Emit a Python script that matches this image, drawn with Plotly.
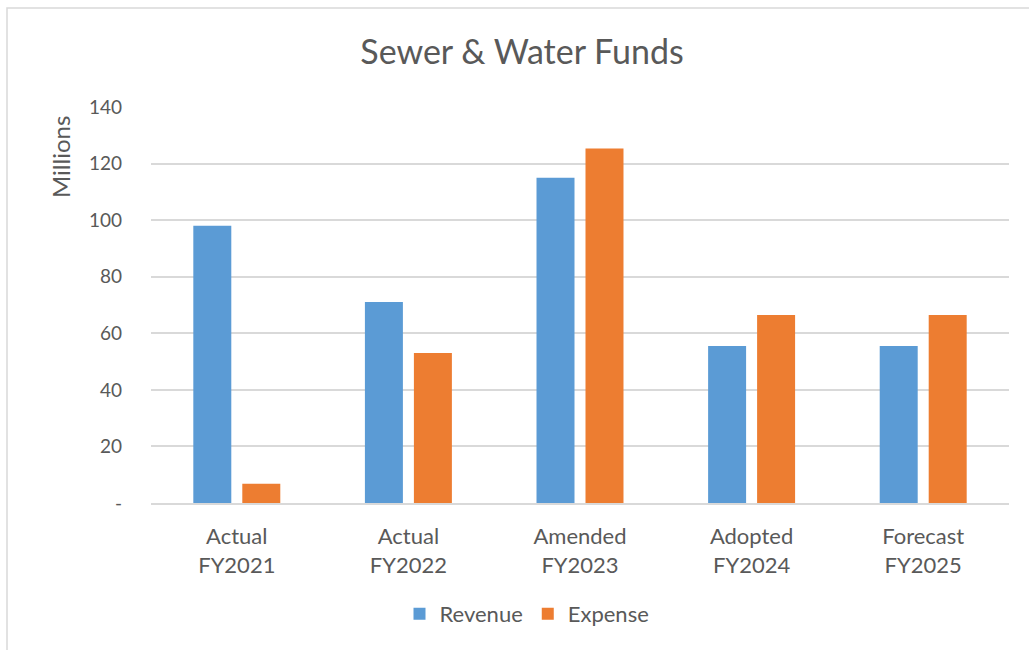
import plotly.graph_objects as go

categories = ["Actual<br>FY2021", "Actual<br>FY2022", "Amended<br>FY2023", "Adopted<br>FY2024", "Forecast<br>FY2025"]
revenue = [98, 71.1, 115, 55.5, 55.5]
expense = [6.8, 53, 125.3, 66.5, 66.5]
y_tickvals = [0, 20, 40, 60, 80, 100, 120, 140]
y_ticktext = ["-", "20", "40", "60", "80", "100", "120", "140"]

FONT = "Lato, Open Sans, sans-serif"
GRAY = "#595959"

fig = go.Figure()
fig.add_trace(go.Bar(name="Revenue", x=categories, y=revenue, marker_color="#5B9BD5", marker_line_width=0))
fig.add_trace(go.Bar(name="Expense", x=categories, y=expense, marker_color="#ED7D31", marker_line_width=0))

W, H = 1029, 650
L, R, T, B = 151, 20, 107, 147
pw = W - L - R
ph = H - T - B

fig.update_layout(
    width=W, height=H,
    margin=dict(l=L, r=R, t=T, b=B, pad=0),
    paper_bgcolor="white", plot_bgcolor="white",
    barmode="group", bargap=0.429, bargroupgap=0.2245,
    font=dict(family=FONT, color=GRAY, size=20),
    title=dict(text="Sewer & Water Funds", x=(522) / W, xanchor="center",
               y=1 - 52 / H, yanchor="middle", font=dict(size=34, color=GRAY, family=FONT)),
    showlegend=True,
    legend=dict(orientation="h", x=(527 - L) / pw, xanchor="center", y=-(614 - (T + ph)) / ph,
                yanchor="middle", font=dict(size=22, color=GRAY), itemwidth=30,
                traceorder="normal", bgcolor="rgba(0,0,0,0)"),
    xaxis=dict(showgrid=False, showline=True, linecolor="#d9d9d9", linewidth=1.5,
               tickfont=dict(size=22, color=GRAY), ticks="", ticklabelstandoff=13),
    yaxis=dict(range=[0, 140], tickvals=y_tickvals, ticktext=y_ticktext, showgrid=True,
               gridcolor="#d9d9d9", gridwidth=1.5, zeroline=False, showline=False,
               tickfont=dict(size=19, color=GRAY), ticks="", ticklabelstandoff=28),
    shapes=[dict(type="rect", xref="paper", yref="paper",
                 x0=(7 - L) / pw, x1=(W + 20 - L) / pw,
                 y0=-(H + 20 - (T + ph)) / ph, y1=(T + ph - 8) / ph,
                 line=dict(color="#d9d9d9", width=1.5), fillcolor="rgba(0,0,0,0)", layer="below")],
    annotations=[dict(text="Millions", xref="paper", yref="paper",
                      x=(60 - L) / pw, y=(T + ph - 157) / ph, textangle=-90,
                      showarrow=False, xanchor="center", yanchor="middle",
                      font=dict(size=24, color=GRAY, family=FONT))],
)

fig.write_html("out.html", config={"displayModeBar": False},
               post_script="document.body.style.margin='0';document.body.style.overflow='hidden';")
